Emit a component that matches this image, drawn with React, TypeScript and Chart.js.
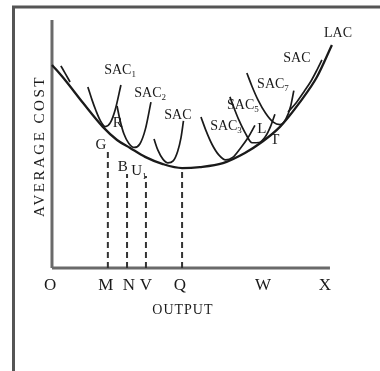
import React, { useEffect, useRef } from 'react';
import { Chart, registerables } from 'chart.js';

Chart.register(...registerables);

// Long-run average cost (envelope)
const lacX = [0, 4.7, 11.2, 18.3, 23.4, 28.1, 33.5, 39.9, 46.8, 53.2, 61.5, 69.4, 75.5, 82.0, 89.2, 95.3, 100.7];
const lacY = [81.9, 75.8, 66.5, 56.9, 51.6, 48.4, 44.8, 41.9, 40.3, 40.7, 42.3, 46.4, 50.8, 56.9, 66.9, 77.0, 89.9];

// Short-run average cost curves
const sac0X = [3.2, 4.7, 6.5];
const sac0Y = [81.5, 78.6, 75.0];
const sac1X = [12.9, 14.4, 15.8, 17.4, 19.2, 21.0, 22.8, 24.8];
const sac1Y = [73.0, 67.8, 63.5, 59.4, 57.0, 58.6, 64.0, 73.8];
const sac2X = [23.4, 24.5, 25.9, 27.6, 29.6, 31.6, 33.6, 35.6];
const sac2Y = [65.3, 59.5, 54.0, 50.3, 48.6, 50.0, 56.0, 66.9];
const sac3X = [36.7, 38.1, 39.9, 41.7, 43.6, 45.2, 46.4, 47.3];
const sac3Y = [52.0, 47.5, 43.9, 42.4, 43.2, 47.0, 52.5, 59.3];
const sac4X = [53.6, 55.4, 57.6, 60.0, 62.5, 65.0, 67.6, 70.5, 73.0];
const sac4Y = [60.9, 55.4, 49.8, 45.6, 43.6, 44.6, 48.0, 52.5, 57.5];
const sac5X = [64.0, 65.5, 67.3, 69.5, 72.0, 74.5, 76.8, 78.6, 80.2];
const sac5Y = [69.0, 64.5, 59.5, 54.5, 50.5, 50.6, 53.0, 57.0, 62.0];
const sac6X = [70.1, 71.9, 74.1, 76.8, 79.6, 82.0, 84.2, 85.8, 87.0];
const sac6Y = [78.6, 73.4, 67.8, 62.5, 58.8, 57.8, 60.2, 65.0, 71.5];
const sac7X = [84.9, 87.8, 90.6, 93.2, 95.3, 97.1];
const sac7Y = [62.9, 66.5, 71.0, 75.4, 79.8, 83.9];

// Dashed drop lines (output levels M, N, V, Q)
const dropX = [20.1, 27.0, 33.8, 46.8];
const dropTopY = [46.8, 37.9, 37.1, 38.7];

// Axis tick letters
const tickLabels = ['O', 'M', 'N', 'V', 'Q', 'W', 'X'];
const tickValues = [-0.7, 19.4, 27.7, 33.8, 46.0, 75.9, 98.2];
const tickRowY = -6.9;

// Curve labels (main text, subscript)
const curveLabelText = ['SAC', 'SAC', 'SAC', 'SAC', 'SAC', 'SAC', 'SAC', 'LAC'];
const curveLabelSub = ['1', '2', '', '3', '5', '7', '', ''];
const curveLabelX = [24.5, 35.3, 45.3, 62.6, 68.7, 79.5, 88.1, 102.9];
const curveLabelY = [79.8, 70.6, 61.7, 57.3, 65.7, 74.2, 84.7, 94.8];

// Point labels
const pointLabelText = ['G', 'R', 'B', 'U', 'L', 'T'];
const pointLabelSub = ['', '', '', '1', '', ''];
const pointLabelX = [17.6, 23.7, 25.5, 31.3, 75.5, 80.2];
const pointLabelY = [49.6, 58.5, 40.7, 39.1, 56.0, 51.6];

const xTitle = 'OUTPUT';
const yTitle = 'AVERAGE COST';

const toPts = (xs: number[], ys: number[]) => xs.map((x, i) => ({ x, y: ys[i] }));

const INK = '#1a1a1a';
const SERIF = '"Liberation Serif", "DejaVu Serif", serif';

export default function App() {
  const ref = useRef<HTMLCanvasElement | null>(null);

  useEffect(() => {
    if (!ref.current) return;

    const curve = (xs: number[], ys: number[], w = 1.7) => ({
      data: toPts(xs, ys),
      showLine: true,
      borderColor: INK,
      borderWidth: w,
      pointRadius: 0,
      fill: false,
      cubicInterpolationMode: 'monotone' as const,
    });

    const drops = dropX.map((x, i) => ({
      data: [{ x, y: 0 }, { x, y: dropTopY[i] }],
      showLine: true,
      borderColor: '#333',
      borderWidth: 2,
      borderDash: [6, 4],
      pointRadius: 0,
      fill: false,
    }));

    const axisY = {
      data: [{ x: 0, y: 0 }, { x: 0, y: 100 }],
      showLine: true,
      borderColor: '#6a6a6a',
      borderWidth: 3,
      pointRadius: 0,
      fill: false,
    };
    const axisX = {
      data: [{ x: 0, y: 0 }, { x: 100, y: 0 }],
      showLine: true,
      borderColor: '#6a6a6a',
      borderWidth: 3,
      pointRadius: 0,
      fill: false,
    };

    const textPlugin = {
      id: 'texts',
      afterDatasetsDraw(chart: any) {
        const { ctx } = chart;
        const xs = chart.scales.x;
        const ys = chart.scales.y;
        const px = (v: number) => xs.getPixelForValue(v);
        const py = (v: number) => ys.getPixelForValue(v);

        const drawSub = (main: string, sub: string, x: number, y: number, size: number) => {
          ctx.save();
          ctx.fillStyle = INK;
          ctx.textBaseline = 'middle';
          ctx.font = `${size}px ${SERIF}`;
          const wMain = ctx.measureText(main).width;
          ctx.font = `${Math.round(size * 0.62)}px ${SERIF}`;
          const wSub = sub ? ctx.measureText(sub).width : 0;
          const total = wMain + wSub;
          const left = px(x) - total / 2;
          ctx.textAlign = 'left';
          ctx.font = `${size}px ${SERIF}`;
          ctx.fillText(main, left, py(y));
          if (sub) {
            ctx.font = `${Math.round(size * 0.62)}px ${SERIF}`;
            ctx.fillText(sub, left + wMain, py(y) + size * 0.35);
          }
          ctx.restore();
        };

        // frame
        ctx.save();
        ctx.strokeStyle = '#555';
        ctx.lineWidth = 3;
        ctx.beginPath();
        ctx.moveTo(13.5, chart.height);
        ctx.lineTo(13.5, 7);
        ctx.lineTo(chart.width, 7);
        ctx.stroke();
        ctx.restore();

        curveLabelText.forEach((t, i) => drawSub(t, curveLabelSub[i], curveLabelX[i], curveLabelY[i], 14));
        pointLabelText.forEach((t, i) => drawSub(t, pointLabelSub[i], pointLabelX[i], pointLabelY[i], 15));
        tickLabels.forEach((t, i) => drawSub(t, '', tickValues[i], tickRowY, 17));

        ctx.save();
        ctx.fillStyle = INK;
        ctx.textAlign = 'center';
        ctx.textBaseline = 'middle';
        ctx.font = `14px ${SERIF}`;
        (ctx as any).letterSpacing = '1px';
        ctx.fillText(xTitle, px(47.1), py(-16.9));
        ctx.translate(px(-4.3), py(49.2));
        ctx.rotate(-Math.PI / 2);
        (ctx as any).letterSpacing = '2.5px';
        ctx.font = `15px ${SERIF}`;
        ctx.fillText(yTitle, 0, 0);
        ctx.restore();
      },
    };

    const chart = new Chart(ref.current, {
      type: 'scatter',
      data: {
        datasets: [
          curve(lacX, lacY, 2.3),
          curve(sac0X, sac0Y),
          curve(sac1X, sac1Y),
          curve(sac2X, sac2Y),
          curve(sac3X, sac3Y),
          curve(sac4X, sac4Y),
          curve(sac5X, sac5Y),
          curve(sac6X, sac6Y),
          curve(sac7X, sac7Y),
          ...drops,
          axisY,
          axisX,
        ] as any,
      },
      options: {
        responsive: false,
        maintainAspectRatio: false,
        animation: false,
        devicePixelRatio: 1,
        layout: { padding: 0 },
        scales: {
          x: { type: 'linear', display: false, min: -18.7, max: 118.0 },
          y: { type: 'linear', display: false, min: -41.53, max: 108.06 },
        },
        plugins: { legend: { display: false }, tooltip: { enabled: false } },
      },
      plugins: [textPlugin],
    });

    return () => chart.destroy();
  }, []);

  return (
    <div style={{ position: 'fixed', left: 0, top: 0, width: 380, height: 371, background: '#fff' }}>
      <canvas ref={ref} width={380} height={371} style={{ display: 'block', width: 380, height: 371 }} />
    </div>
  );
}
